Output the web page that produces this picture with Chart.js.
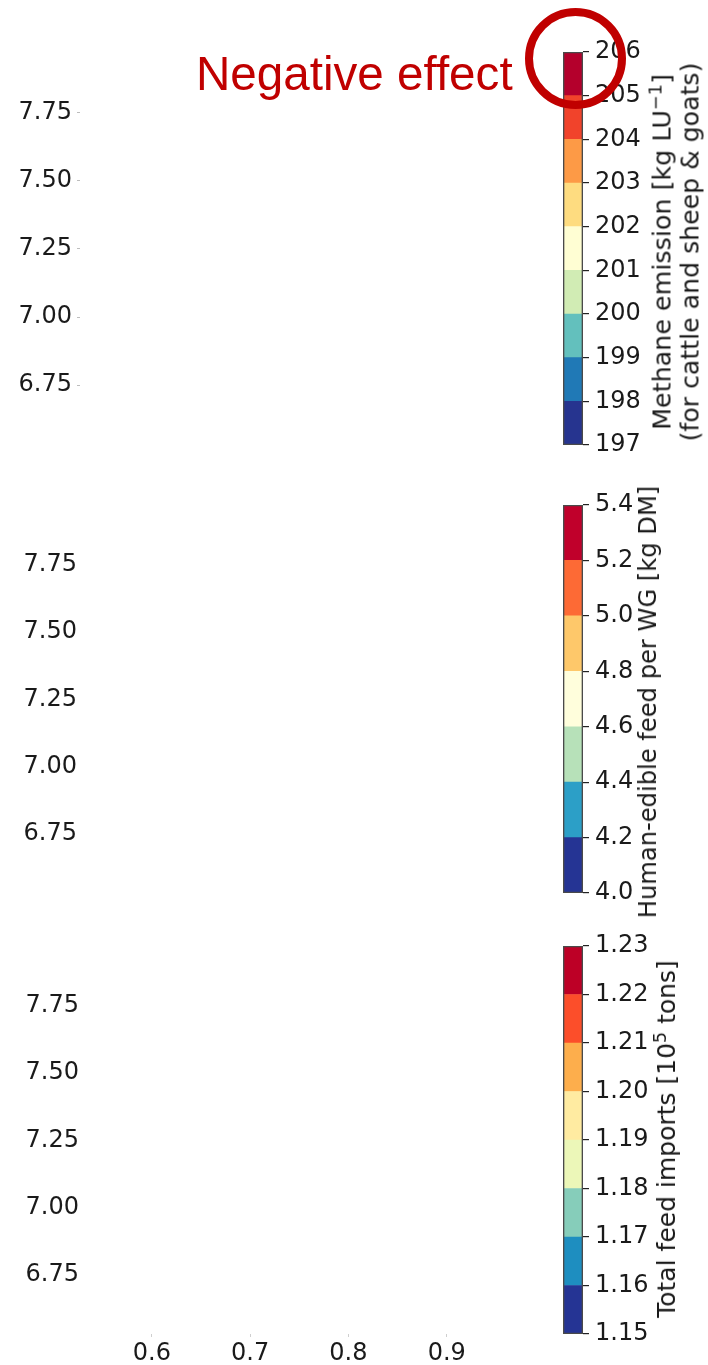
<!DOCTYPE html>
<html>
<head>
<meta charset="utf-8">
<script src="https://cdn.jsdelivr.net/npm/chart.js@4"></script>
<style>
  body { margin: 0; background: #fff; }
  #page { position: relative; width: 708px; height: 1365px; overflow: hidden; font-family: 'DejaVu Sans'; color: #1a1a1a; }
  canvas { position: absolute; }
  .cbTitle { position: absolute; white-space: nowrap; font-size: 24px; line-height: 28px; text-align: center; transform: translate(-50%, -50%) rotate(-90deg); }
  sup { font-size: 0.7em; line-height: 0; vertical-align: 0.5em; }
  #note { position: absolute; left: 196px; top: 50px; font-family: 'Liberation Sans'; font-size: 47.6px; line-height: 47px; color: #c00000; white-space: nowrap; }
  #ring { position: absolute; left: 525px; top: 8px; width: 101px; height: 101px; box-sizing: border-box; border: 8px solid #c00000; border-radius: 50%; }
</style>
</head>
<body>
<div id="page">
  <canvas id="main1" width="560" height="453" style="left:0;top:22px"></canvas>
  <canvas id="main2" width="560" height="448" style="left:0;top:475px"></canvas>
  <canvas id="main3" width="560" height="449" style="left:0;top:916px"></canvas>
  <canvas id="cb1" width="168" height="453" style="left:540px;top:22px"></canvas>
  <canvas id="cb2" width="168" height="448" style="left:540px;top:475px"></canvas>
  <canvas id="cb3" width="168" height="449" style="left:540px;top:916px"></canvas>

  <div class="cbTitle" style="left:676px;top:252px;font-size:25.4px">Methane emission [kg LU<sup>−1</sup>]<br><span style="font-size:25.2px">(for cattle and sheep &amp; goats)</span></div>
  <div class="cbTitle" style="left:648px;top:702px;font-size:24.2px">Human-edible feed per WG [kg DM]</div>
  <div class="cbTitle" style="left:667px;top:1139px;font-size:25px">Total feed imports [10<sup>5</sup> tons]</div>

  <div id="note">Negative effect</div>
  <div id="ring"></div>
</div>
<script>
const yTicks = [6.75, 7.00, 7.25, 7.50, 7.75];
const xTicks = [0.6, 0.7, 0.8, 0.9];
const yRange = [6.531, 7.971];
const xRange = [0.534, 1.0];

const methaneLevels = [197, 198, 199, 200, 201, 202, 203, 204, 205, 206];
const methaneColors = ['#26348f', '#2079b6', '#63c0bd', '#d1ecb4', '#fffed3', '#fedc80', '#fd9a46', '#f1432b', '#b4002c'];

const feedLevels = [4.0, 4.2, 4.4, 4.6, 4.8, 5.0, 5.2, 5.4];
const feedColors = ['#253494', '#2c9fc7', '#b7e1b9', '#fffedc', '#fec86a', '#fd6a35', '#c0002b'];

const importLevels = [1.15, 1.16, 1.17, 1.18, 1.19, 1.20, 1.21, 1.22, 1.23];
const importColors = ['#253494', '#1e8ec0', '#86cdba', '#ecf7b8', '#ffeba1', '#fdae4c', '#fc4e2a', '#bd0026'];

Chart.defaults.font.family = "'DejaVu Sans'";
Chart.defaults.color = '#1a1a1a';

// empty panels, only the axes are visible
function makePanel(id, padLeft, yTickColor, withX) {
    new Chart(document.getElementById(id), {
        type: 'scatter',
        data: { datasets: [{ data: [] }] },
        options: {
            responsive: false,
            animation: false,
            events: [],
            layout: { padding: { left: padLeft, right: 15, top: 30, bottom: withX ? 5 : 30 } },
            plugins: { legend: { display: false }, tooltip: { enabled: false } },
            scales: {
                x: {
                    type: 'linear',
                    min: xRange[0],
                    max: xRange[1],
                    display: withX,
                    afterBuildTicks: a => { a.ticks = xTicks.map(v => ({ value: v })); },
                    afterFit: a => { if (withX) a.height = 26; },
                    grid: { drawOnChartArea: false, tickLength: 3, tickColor: '#cfcfcf' },
                    border: { display: false },
                    ticks: { padding: 2, autoSkip: false, maxRotation: 0, font: { size: 24 }, callback: v => v.toFixed(1) }
                },
                y: {
                    type: 'linear',
                    min: yRange[0],
                    max: yRange[1],
                    afterBuildTicks: a => { a.ticks = yTicks.map(v => ({ value: v })); },
                    afterFit: a => { a.width = 70; },
                    grid: { drawOnChartArea: false, tickLength: 3, tickColor: yTickColor },
                    border: { display: false },
                    ticks: { padding: 5, autoSkip: false, font: { size: 24 }, callback: v => v.toFixed(2) }
                }
            }
        }
    });
}

function makeColorbar(id, levels, colors, decimals, padBottom) {
    const last = levels.length - 1;
    const datasets = colors.map((c, i) => ({
        data: [[levels[i], levels[i + 1]]],
        backgroundColor: c,
        borderWidth: 0,
        barPercentage: 1,
        categoryPercentage: 1,
        grouped: false
    }));
    // outline
    datasets.push({
        data: [[levels[0], levels[last]]],
        backgroundColor: 'rgba(0,0,0,0)',
        borderColor: '#4a4a4a',
        borderWidth: 1,
        borderSkipped: false,
        barPercentage: 1,
        categoryPercentage: 1,
        grouped: false,
        order: -1
    });

    new Chart(document.getElementById(id), {
        type: 'bar',
        data: { labels: [''], datasets },
        options: {
            responsive: false,
            animation: false,
            events: [],
            layout: { padding: { left: 23, right: 45, top: 30, bottom: padBottom } },
            plugins: { legend: { display: false }, tooltip: { enabled: false } },
            scales: {
                x: { display: false },
                y: {
                    position: 'right',
                    min: levels[0],
                    max: levels[last],
                    afterBuildTicks: a => { a.ticks = levels.map(v => ({ value: v })); },
                    afterFit: a => { a.width = 80; },
                    grid: { drawOnChartArea: false, tickLength: 6, tickColor: '#222', lineWidth: 1.2 },
                    border: { display: false },
                    ticks: { padding: 6, autoSkip: false, font: { size: 24 }, callback: v => v.toFixed(decimals) }
                }
            }
        }
    });
}

makePanel('main1', 10, '#bdbdbd', false);
makePanel('main2', 15, 'rgba(0,0,0,0)', false);
makePanel('main3', 17, 'rgba(0,0,0,0)', true);

makeColorbar('cb1', methaneLevels, methaneColors, 0, 30);
makeColorbar('cb2', feedLevels, feedColors, 1, 30);
makeColorbar('cb3', importLevels, importColors, 2, 31);
</script>
</body>
</html>
